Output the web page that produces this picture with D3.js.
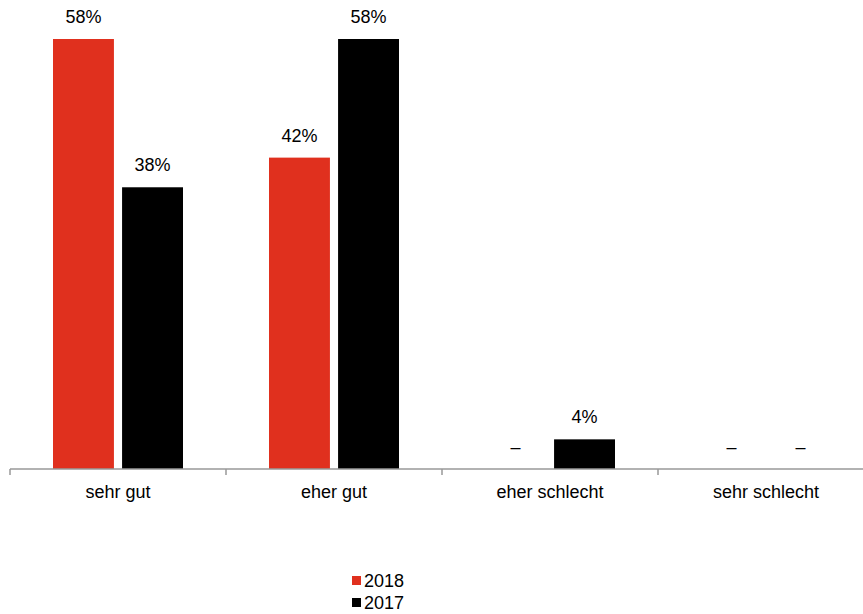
<!DOCTYPE html>
<html><head><meta charset="utf-8">
<script src="https://cdn.jsdelivr.net/npm/d3@7"></script>
<style>body{margin:0;background:#fff}svg text{font-family:"Liberation Sans",Arial,sans-serif}</style>
</head><body><svg id="c" width="863" height="614"></svg>
<script>
const categories = ["sehr gut","eher gut","eher schlecht","sehr schlecht"];
const seriesNames = ["2018","2017"];
const values2018 = [58,42,null,null];
const values2017 = [38,58,4,null];
const colors = ["#e0301e","#000000"];

const svg = d3.select("#c");
const x0 = 10, step = 216, baseY = 469;
const x = d3.scaleBand().domain(categories).range([x0, x0 + step*categories.length]).paddingInner(0).paddingOuter(0);
const xs = d3.scaleBand().domain(seriesNames).range([43, 173]).paddingInner(0.118);
const y = d3.scaleLinear().domain([0,58]).range([baseY, 39]);

const series = [values2018, values2017];
series.forEach((vals, si) => {
  const g = svg.append("g");
  categories.forEach((c, i) => {
    const v = vals[i];
    const bx = x(c) + xs(seriesNames[si]);
    const cx = bx + xs.bandwidth()/2;
    if (v != null) {
      g.append("rect").attr("x", bx).attr("y", y(v)).attr("width", xs.bandwidth()).attr("height", baseY - y(v)).attr("fill", colors[si]);
      g.append("text").attr("x", cx).attr("y", y(v) - 16).attr("text-anchor","middle").attr("font-size",18).attr("fill","#000").text(v + "%");
    } else {
      g.append("text").attr("x", cx).attr("y", baseY - 16).attr("text-anchor","middle").attr("font-size",18).attr("fill","#000").text("–");
    }
  });
});

// axis
const axis = d3.axisBottom(x).tickSize(0).tickPadding(16);
const ag = svg.append("g").attr("transform", `translate(0,${baseY})`).call(axis);
ag.select(".domain").attr("stroke","#999").attr("stroke-width",1.5).attr("d", `M${x0},0H${x0+step*4}`);
ag.selectAll(".tick text").attr("font-size",18).attr("fill","#000").attr("font-family","Liberation Sans, Arial, sans-serif");
// category boundary ticks
d3.range(categories.length + 1).forEach(i => {
  ag.append("line").attr("x1", x0 + i*step).attr("x2", x0 + i*step).attr("y1", 0).attr("y2", 6).attr("stroke","#999").attr("stroke-width",1.5);
});

// legend
const lg = svg.append("g");
seriesNames.forEach((n, i) => {
  const ly = 582 + i*22;
  lg.append("rect").attr("x", 352).attr("y", ly - 6).attr("width", 9).attr("height", 9).attr("fill", colors[i]);
  lg.append("text").attr("x", 364).attr("y", ly + 5).attr("font-size",18).attr("fill","#000").text(n);
});
</script></body></html>
